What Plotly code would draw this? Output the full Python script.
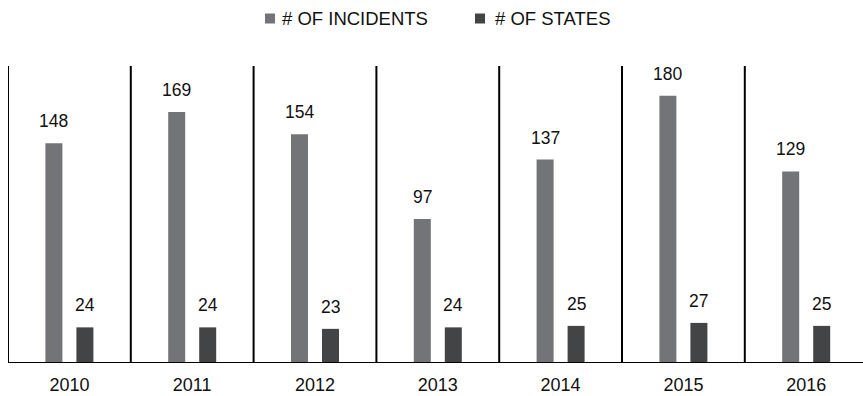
import plotly.graph_objects as go

# Data
years = ["2010", "2011", "2012", "2013", "2014", "2015", "2016"]
incidents = [148, 169, 154, 97, 137, 180, 129]
states = [24, 24, 23, 24, 25, 27, 25]
series_names = ["# OF INCIDENTS", "# OF STATES"]

INC_COLOR = "#737477"
ST_COLOR = "#434446"
FONT = "Liberation Sans, Arial, Helvetica, sans-serif"
TXT = "#111111"

W, H = 863, 396
ML, MR, MT, MB = 8, 0, 66, 33
plot_w = W - ML - MR
plot_h = H - MT - MB
cat_px = 122.8                      # pixel width of one year column
bar_w = 17 / cat_px                 # bar width in category units
half_sep = 15.5 / cat_px            # bar centre distance from column centre

idx = list(range(len(years)))
x_inc = [i - half_sep for i in idx]
x_st = [i + half_sep for i in idx]

fig = go.Figure()
fig.add_trace(go.Bar(name=series_names[0], x=x_inc, y=incidents, width=bar_w,
                     marker=dict(color=INC_COLOR, line=dict(width=0))))
fig.add_trace(go.Bar(name=series_names[1], x=x_st, y=states, width=bar_w,
                     marker=dict(color=ST_COLOR, line=dict(width=0))))

# value labels above each bar
for xs, vals in ((x_inc, incidents), (x_st, states)):
    for x, v in zip(xs, vals):
        fig.add_annotation(x=x, y=v, text=str(v), showarrow=False,
                           yanchor="bottom", yshift=10,
                           font=dict(family=FONT, size=17.5, color=TXT))

# column separators
shapes = []
for i in range(len(years)):
    shapes.append(dict(type="line", xref="x", yref="y", x0=i - 0.5, x1=i - 0.5,
                       y0=0, y1=200, line=dict(color="black", width=2)))
# baseline
shapes.append(dict(type="line", xref="paper", yref="y", x0=0, x1=1, y0=0, y1=0,
                   line=dict(color="black", width=2)))

# legend row above the plot: small square swatch followed by the series name
def px_x(p):
    return (p - ML) / plot_w

def px_y(p):
    return (H - MB - p) / plot_h

legend_items = [(series_names[0], INC_COLOR, 265, 280),
                (series_names[1], ST_COLOR, 475, 493)]
for name, color, left, text_left in legend_items:
    shapes.append(dict(type="rect", xref="paper", yref="paper",
                       x0=px_x(left), x1=px_x(left + 10),
                       y0=px_y(23.5), y1=px_y(13.5),
                       fillcolor=color, line=dict(width=0)))
    fig.add_annotation(xref="paper", yref="paper", x=px_x(text_left), y=px_y(18.5),
                       xanchor="left", yanchor="middle", text=name, showarrow=False,
                       font=dict(family=FONT, size=18.5, color=TXT))

fig.update_layout(
    width=W, height=H,
    margin=dict(l=ML, r=MR, t=MT, b=MB),
    paper_bgcolor="white", plot_bgcolor="white",
    barmode="overlay",
    shapes=shapes,
    showlegend=False,
    xaxis=dict(range=[-0.5, -0.5 + plot_w / cat_px], tickvals=idx, ticktext=years,
               showgrid=False, zeroline=False, showline=False, ticks="",
               ticklabelstandoff=9,
               tickfont=dict(family=FONT, size=18, color=TXT)),
    yaxis=dict(range=[0, 200], visible=False, showgrid=False, zeroline=False),
)

fig.write_html("out.html")
